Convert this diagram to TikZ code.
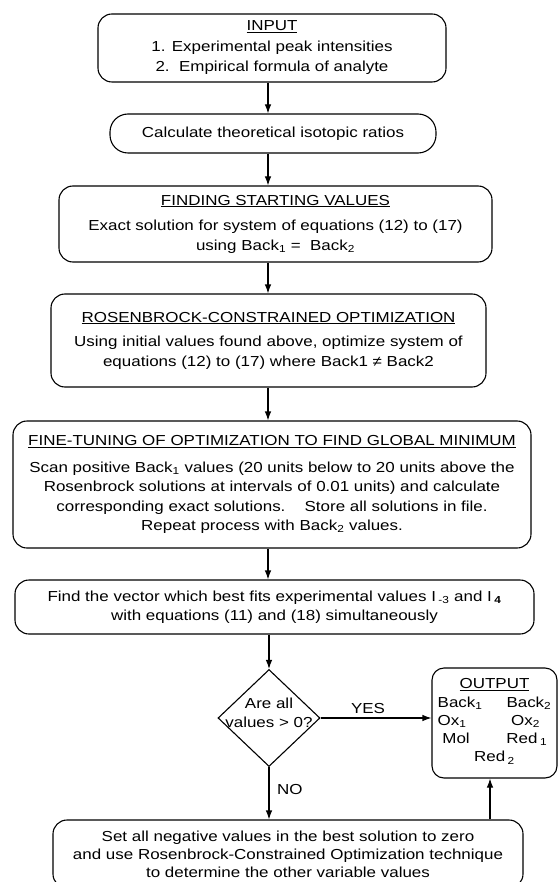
\documentclass[tikz,border=0pt]{standalone}
\usepackage{fontspec}
\setmainfont{Liberation Sans}[FakeStretch=1.17]
\usetikzlibrary{arrows.meta,shapes.geometric}
\begin{document}
\begin{tikzpicture}[x=1pt,y=-1pt,
  txt/.style={font=\fontsize{14.5}{19.5}\selectfont},
  box/.style={txt, draw, line width=1.1pt, rounded corners=14pt, align=center, inner sep=0pt},
  arr/.style={draw, line width=1.1pt, -{Latex[length=9pt,width=6.5pt]}},
  lbl/.style={txt, inner sep=0pt}]
\useasboundingbox (0,0) rectangle (559,882);
\fill[white] (0,0) rectangle (559,882);

\node[box, minimum width=348pt, minimum height=68pt] (input) at (272,48)
  {\underline{INPUT}\\[1pt] 1. Experimental peak intensities\\[1pt] 2.\ \ Empirical formula of analyte};
\node[box, rounded corners=18pt, minimum width=326pt, minimum height=39pt] (calc) at (273,133.5)
  {Calculate theoretical isotopic ratios};
\node[box, minimum width=433pt, minimum height=76pt] (start) at (275.5,224)
  {\underline{FINDING STARTING VALUES}\\[6pt] Exact solution for system of equations (12) to (17)\\ using Back\textsubscript{1} =\ \ Back\textsubscript{2}};
\node[box, minimum width=435pt, minimum height=93pt] (rosen) at (268.5,340.5)
  {\underline{ROSENBROCK-CONSTRAINED OPTIMIZATION}\\[5pt] Using initial values found above, optimize system of\\ equations (12) to (17) where Back1 ≠ Back2};
\node[box, minimum width=518pt, minimum height=127pt] (fine) at (272,484.5)
  {\underline{FINE-TUNING OF OPTIMIZATION TO FIND GLOBAL MINIMUM}\\[7pt]
   Scan positive Back\textsubscript{1} values (20 units below to 20 units above the\\
   Rosenbrock solutions at intervals of 0.01 units) and calculate\\
   corresponding exact solutions.\quad\ Store all solutions in file.\\
   Repeat process with Back\textsubscript{2} values.};
\node[box, minimum width=519pt, minimum height=54pt] (vec) at (274.5,607)
  {Find the vector which best fits experimental values I\,\textsubscript{-3} and I\,\textsubscript{\textbf{4}}\\ with equations (11) and (18) simultaneously};
\node[diamond, draw, line width=1.1pt, inner sep=0pt, minimum width=102pt, minimum height=97pt] (dec) at (269,718) {};
\node[lbl, align=center] (dectext) at (269,713) {Are all\\values > 0?};
\node[box, rounded corners=12pt, minimum width=125pt, minimum height=110pt] (out) at (494.5,723)
  {\underline{OUTPUT}\\[3pt]
   \renewcommand\arraystretch{0.93}%
   \begin{tabular}{@{}l@{\hspace{24pt}}l@{}}
   Back\textsubscript{1} & Back\textsubscript{2}\\
   Ox\textsubscript{1} & \ Ox\textsubscript{2}\\
   \ Mol & Red\,\textsubscript{1}\\
   \multicolumn{2}{c}{Red\,\textsubscript{2}}
   \end{tabular}};
\node[box, font=\fontsize{14.5}{18}\selectfont, minimum width=470pt, minimum height=68pt] (bot) at (288,854)
  {Set all negative values in the best solution to zero\\
   and use Rosenbrock-Constrained Optimization technique\\
   to determine the other variable values};

\coordinate (axis) at (268,0);
\coordinate (upx) at (490,0);
\draw[arr] (input.south -| axis) -- (calc.north -| axis);
\draw[arr] (calc.south -| axis) -- (start.north -| axis);
\draw[arr] (start.south -| axis) -- (rosen.north -| axis);
\draw[arr] (rosen.south -| axis) -- (fine.north -| axis);
\draw[arr] (fine.south -| axis) -- (vec.north -| axis);
\draw[arr] (vec.south -| dec.north) -- (dec.north);
\draw[arr] (dec.east) -- (dec.east -| out.west);
\node[lbl] (yes) at (368,709) {YES};
\draw[arr] (dec.south) -- (dec.south |- bot.north);
\node[lbl, anchor=west] (no) at (277,789) {NO};
\draw[arr] (bot.north -| upx) -- (out.south -| upx);
\end{tikzpicture}
\end{document}
